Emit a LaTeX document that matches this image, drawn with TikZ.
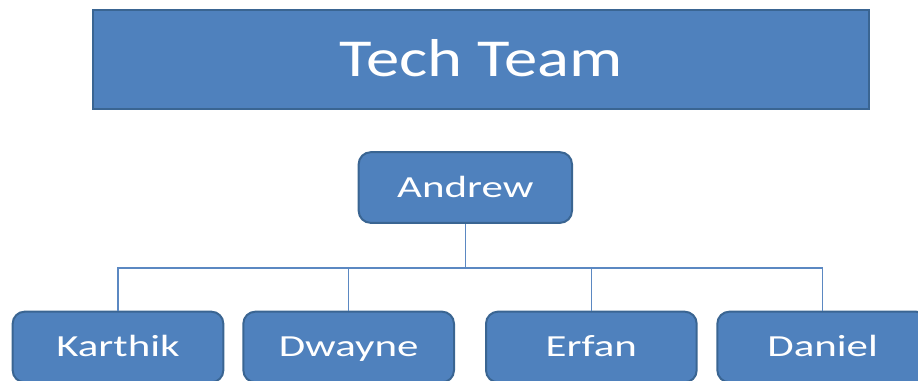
\documentclass[tikz,border=0pt]{standalone}
\usepackage{fontspec}
\setmainfont{Carlito}
\newfontfamily\titlefont[FakeStretch=1.25]{Carlito}
\newfontfamily\boxfont[FakeStretch=1.4]{Carlito}
\usepackage{xcolor}
\usetikzlibrary{positioning}

\definecolor{orgfill}{HTML}{4F81BD}
\definecolor{orgedge}{HTML}{3A6592}
\definecolor{orgline}{HTML}{5B88C2}

\begin{document}
\begin{tikzpicture}[
  title/.style={draw=orgedge, line width=1.5pt, fill=orgfill, text=white, minimum width=582pt, minimum height=74pt, text height=25.8pt, text depth=0pt, font=\titlefont\fontsize{40}{48}\selectfont},
  box/.style={draw=orgedge, line width=1.5pt, fill=orgfill, text=white, rounded corners=9pt, minimum width=158pt, minimum height=53pt, text height=15pt, text depth=0pt, font=\boxfont\fontsize{23}{28}\selectfont},
  conn/.style={draw=orgline, line width=0.8pt}
]
\clip (0,0) rectangle (688.5pt,285.75pt);

\node[title] (team) at (360.75pt,241.1pt) {Tech Team};
\node[box, minimum width=160pt] (andrew) at (349pt,145.1pt) {Andrew};

\node[box] (karthik) at (88.5pt,25.5pt) {Karthik};
\node[box, right=13.5pt of karthik] (dwayne) {Dwayne};
\node[box, right=22.5pt of dwayne] (erfan) {Erfan};
\node[box, right=14pt of erfan] (daniel) {Daniel};

\coordinate (bus) at (0,84.75pt);
\draw[conn] (andrew.south) -- (andrew.south |- bus);
\draw[conn] (karthik.north) -- (karthik.north |- bus) -- (daniel.north |- bus) -- (daniel.north);
\draw[conn] (dwayne.north) -- (dwayne.north |- bus);
\draw[conn] (erfan.north) -- (erfan.north |- bus);
\end{tikzpicture}
\end{document}
